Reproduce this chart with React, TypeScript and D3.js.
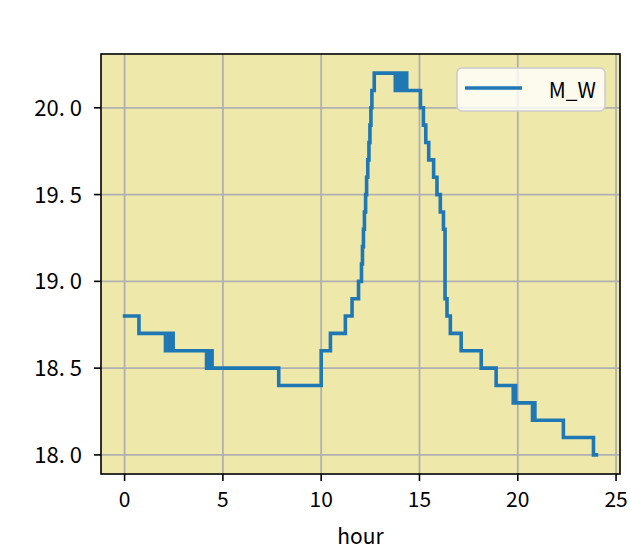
import React from "react";
import * as d3 from "d3";

const hours = [
  0, 0.73, 2.08, 2.16, 2.26, 2.36, 2.47, 4.17, 4.25, 4.33, 4.4, 4.45, 7.84,
  10.0, 10.47, 11.23, 11.57, 11.9, 12.05, 12.1, 12.15, 12.2, 12.26, 12.31,
  12.37, 12.43, 12.48, 12.53, 12.58, 12.7, 13.77, 13.85, 13.95, 14.05, 14.15,
  14.25, 14.35, 14.44, 15.05, 15.2, 15.32, 15.47, 15.72, 15.89, 16.06, 16.22,
  16.3, 16.4, 16.57, 17.12, 18.14, 18.9, 19.77, 19.83, 19.89, 20.75, 20.81,
  20.87, 22.32, 23.85, 24.0,
];
const mw = [
  18.8, 18.7, 18.6, 18.7, 18.6, 18.7, 18.6, 18.5, 18.6, 18.5, 18.6, 18.5, 18.4,
  18.6, 18.7, 18.8, 18.9, 19.0, 19.1, 19.2, 19.3, 19.4, 19.5, 19.6,
  19.7, 19.8, 19.9, 20.0, 20.1, 20.2, 20.1, 20.2, 20.1, 20.2, 20.1,
  20.2, 20.1, 20.1, 20.0, 19.9, 19.8, 19.7, 19.6, 19.5, 19.4, 19.3,
  18.9, 18.8, 18.7, 18.6, 18.5, 18.4, 18.3, 18.4, 18.3, 18.2, 18.3,
  18.2, 18.1, 18.0, 18.0,
];
const xTicks = [0, 5, 10, 15, 20, 25];
const yTicks = [18.0, 18.5, 19.0, 19.5, 20.0];
const seriesName = "M_W";
const xLabel = "hour";

const W = 631;
const H = 554;
const L = 101, R = 620, T = 54, B = 474;
const FONT = '"Noto Sans CJK JP", "Noto Sans", sans-serif';

export default function App() {
  const data = hours.map((h, i) => [h, mw[i]] as [number, number]);
  const xMin = 0, xMax = 24, yMin = 18.0, yMax = 20.2;
  const xm = (xMax - xMin) * 0.05, ym = (yMax - yMin) * 0.05;
  const x = d3.scaleLinear().domain([xMin - xm, xMax + xm]).range([L, R]);
  const y = d3.scaleLinear().domain([yMin - ym, yMax + ym]).range([B, T]);
  const line = d3
    .line<[number, number]>()
    .x((d) => x(d[0]))
    .y((d) => y(d[1]))
    .curve(d3.curveStepAfter);

  return (
    <svg width={W} height={H} style={{ position: "absolute", left: 0, top: 0 }} fontFamily={FONT}>
      <rect x={0} y={0} width={W} height={H} fill="#ffffff" />
      <rect x={L} y={T} width={R - L} height={B - T} fill="#eee8aa" />
      {xTicks.map((t) => (
        <line key={"gx" + t} x1={x(t)} x2={x(t)} y1={T} y2={B} stroke="#b0b0b0" strokeWidth={1.8} />
      ))}
      {yTicks.map((t) => (
        <line key={"gy" + t} x1={L} x2={R} y1={y(t)} y2={y(t)} stroke="#b0b0b0" strokeWidth={1.8} />
      ))}
      <path d={line(data) || ""} fill="none" stroke="#1f77b4" strokeWidth={3.6} strokeLinejoin="miter" strokeLinecap="square" />
      <rect x={L} y={T} width={R - L} height={B - T} fill="none" stroke="#000" strokeWidth={1.6} />
      {xTicks.map((t) => (
        <g key={"tx" + t}>
          <line x1={x(t)} x2={x(t)} y1={B} y2={B + 7} stroke="#000" strokeWidth={1.6} />
          <text x={x(t)} y={B + 33} fontSize={21} textAnchor="middle" fill="#000">
            {String(t)}
          </text>
        </g>
      ))}
      {yTicks.map((t) => (
        <g key={"ty" + t}>
          <line x1={L - 7} x2={L} y1={y(t)} y2={y(t)} stroke="#000" strokeWidth={1.6} />
          <text x={82} y={y(t) + 8} fontSize={22} textAnchor="end" fill="#000">
            {t.toFixed(1).replace(".", ". ")}
          </text>
        </g>
      ))}
      <text x={(L + R) / 2} y={544} fontSize={21} textAnchor="middle" fill="#000">
        {xLabel}
      </text>
      <g>
        <rect x={457} y={68} width={148} height={43} rx={5} fill="#ffffff" fillOpacity={0.8} stroke="#cccccc" strokeWidth={1.6} />
        <line x1={465} x2={522} y1={88} y2={88} stroke="#1f77b4" strokeWidth={3.6} />
        <text x={596} y={98} fontSize={21} textAnchor="end" fill="#000">
          {seriesName}
        </text>
      </g>
    </svg>
  );
}
